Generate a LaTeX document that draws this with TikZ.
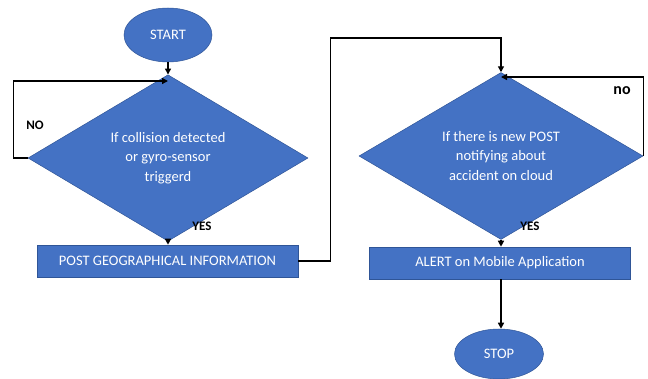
\documentclass[tikz,border=0pt]{standalone}
\usepackage{fontspec}
\setmainfont{Carlito}
\definecolor{FCblue}{HTML}{4472C4}
\definecolor{FCedge}{HTML}{2F5597}
\usetikzlibrary{shapes.geometric, arrows.meta, positioning}

\begin{document}
\begin{tikzpicture}[
      x=1pt, y=-1pt,
      term/.style={ellipse, fill=FCblue, draw=FCedge, line width=0.5pt,
         minimum width=88pt, minimum height=54pt, inner sep=0pt,
         text=white, font=\fontsize{14.5}{17}\selectfont},
      cond/.style={diamond, fill=FCblue, draw=FCedge, line width=0.5pt,
         inner sep=0pt, text=white, align=center,
         font=\fontsize{14.5}{19.5}\selectfont},
      proc/.style={rectangle, fill=FCblue, draw=FCedge, line width=0.6pt,
         minimum height=32pt, inner sep=0pt,
         text=white, font=\fontsize{14.5}{17}\selectfont},
      lbl/.style={font=\fontsize{13}{15}\selectfont\bfseries, text=black},
      arr/.style={-{Triangle[length=6pt, width=6pt]}, line width=1.4pt},
   ]
      \useasboundingbox (0,0) rectangle (648,379);

      % START
      \node[term] (start) at (168,35) {START};

      % collision / gyro test
      \node[cond, minimum width=280pt, minimum height=130pt] (crash) at (168,158)
         {If collision detected\\or gyro-sensor\\triggerd};
      \node[lbl] at (35,125) {NO};
      \node[lbl] at (202,226) {YES};

      % POST
      \node[proc, minimum width=261pt] (post) at (167.5,261)
         {POST GEOGRAPHICAL INFORMATION};

      % cloud test
      \node[cond, minimum width=284pt, minimum height=128pt] (cloud) at (501,156)
         {If there is new POST\\notifying about\\accident on cloud};
      \node[lbl, font=\fontsize{16}{18}\selectfont\bfseries] at (622,91) {no};
      \node[lbl] at (530,226) {YES};

      % ALERT
      \node[proc, minimum width=261pt] (alert) at (500,263)
         {ALERT on Mobile Application};

      % STOP
      \node[term, minimum width=89pt, minimum height=50pt] (stop) at (499,354) {STOP};

      % junctions
      \coordinate (j1) at (168,81);
      \coordinate (j2) at (501,77);
      \coordinate (top2) at (501,38);

      % flow
      \draw[arr] (start.south) -- (crash.north);
      \draw[arr] (crash.west) -- ++(-14,0) |- (j1);
      \draw[arr] (crash.south) -- (post.north -| crash.south);
      \draw[arr] (post.east) -- ++(32,0) |- (top2) -- (cloud.north);
      \draw[arr] (cloud.east) |- (j2);
      \draw[arr] (cloud.south) -- (alert.north -| cloud.south);
      \draw[arr] (alert.south -| cloud.south) -- (stop.north -| cloud.south);
   \end{tikzpicture}
\end{document}
